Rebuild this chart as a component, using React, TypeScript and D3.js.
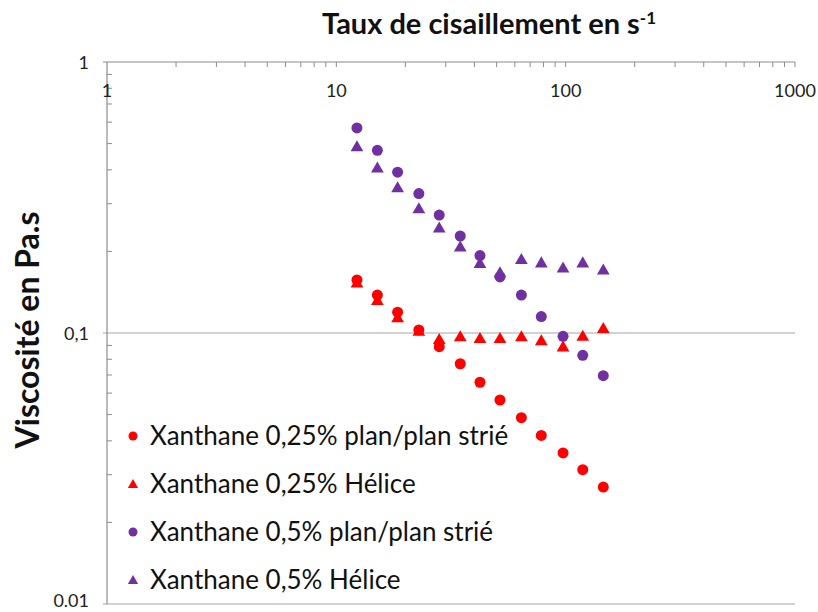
import React from "react";
import * as d3 from "d3";

const shearRates = [12.3, 15.1, 18.5, 22.9, 28.1, 34.7, 42.3, 51.7, 64.1, 78.3, 97.4, 118.7, 145.9];
const xan025Plan = [0.157, 0.138, 0.1193, 0.1026, 0.089, 0.077, 0.0658, 0.0566, 0.0487, 0.0419, 0.0361, 0.0313, 0.027];
const xan025Helice = [0.1533, 0.132, 0.114, 0.1017, 0.0948, 0.097, 0.0956, 0.0956, 0.097, 0.0937, 0.089, 0.0975, 0.104];
const xan05Plan = [0.571, 0.472, 0.392, 0.327, 0.2725, 0.228, 0.193, 0.161, 0.138, 0.115, 0.0972, 0.0827, 0.0696];
const xan05Helice = [0.487, 0.407, 0.344, 0.288, 0.2446, 0.208, 0.1807, 0.167, 0.187, 0.1817, 0.174, 0.1817, 0.171];

const seriesNames = [
  "Xanthane 0,25% plan/plan strié",
  "Xanthane 0,25% Hélice",
  "Xanthane 0,5% plan/plan strié",
  "Xanthane 0,5% Hélice",
];
const seriesValues = [xan025Plan, xan025Helice, xan05Plan, xan05Helice];
const seriesColors = ["#FF0000", "#FF0000", "#7030A0", "#7030A0"];
const seriesShapes = ["circle", "triangle", "circle", "triangle"];

const xTickValues = [1, 10, 100, 1000];
const xTickLabels = ["1", "10", "100", "1000"];
const yTickValues = [1, 0.1, 0.01];
const yTickLabels = ["1", "0,1", "0.01"];

const W = 818;
const H = 612;
const FONT = "Lato, 'Open Sans', sans-serif";

export default function App() {
  const x = d3.scaleLog().domain([1, 1000]).range([107, 795]);
  const y = d3.scaleLog().domain([0.01, 1]).range([604, 62]);
  const axisColor = "#8C8C8C";

  const minorX: number[] = [];
  for (let d = 1; d < 1000; d *= 10) {
    for (let k = 2; k <= 10; k++) minorX.push(d * k);
  }
  const minorY: number[] = [];
  for (let d = 0.01; d < 0.99; d *= 10) {
    for (let k = 2; k <= 9; k++) minorY.push(d * k);
  }

  const tri = d3.symbol().type(d3.symbolTriangle).size(70)()!;
  const triLeg = d3.symbol().type(d3.symbolTriangle).size(45)()!;

  const marker = (shape: string, color: string, cx: number, cy: number, key: string, legend = false) =>
    shape === "circle" ? (
      <circle key={key} cx={cx} cy={cy} r={legend ? 4.5 : 5.5} fill={color} />
    ) : (
      <path key={key} d={legend ? triLeg : tri} transform={`translate(${cx},${cy + 1})`} fill={color} />
    );

  return (
    <svg width={W} height={H} style={{ display: "block", position: "absolute", left: 0, top: 0 }}>
      <rect width={W} height={H} fill="#fff" />
      {yTickValues.map((v) => (
        <line key={"g" + v} x1={103} x2={795} y1={y(v)} y2={y(v)} stroke={v === 1 ? axisColor : "#A6A6A6"} strokeWidth={1.2} />
      ))}
      <line x1={107} x2={107} y1={62} y2={604} stroke={axisColor} strokeWidth={1.2} />
      {minorX.map((v) => (
        <line key={"mx" + v} x1={x(v)} x2={x(v)} y1={62} y2={67} stroke={axisColor} strokeWidth={1} />
      ))}
      {minorY.map((v) => (
        <line key={"my" + v} x1={107} x2={112} y1={y(v)} y2={y(v)} stroke={axisColor} strokeWidth={1} />
      ))}
      {xTickValues.map((v, i) => (
        <text key={"xl" + v} x={x(v)} y={97} textAnchor="middle" fontFamily={FONT} fontSize={18} fill="#222">
          {xTickLabels[i]}
        </text>
      ))}
      {yTickValues.map((v, i) => (
        <text key={"yl" + v} x={89} y={Math.min(y(v) + 7, 607)} textAnchor="end" fontFamily={FONT} fontSize={18} fill="#222">
          {yTickLabels[i]}
        </text>
      ))}
      {seriesValues.map((vals, s) => (
        <g key={"s" + s}>
          {vals.map((v, i) => marker(seriesShapes[s], seriesColors[s], x(shearRates[i]), y(v), `p${s}-${i}`))}
        </g>
      ))}
      {seriesNames.map((name, s) => {
        const cy = 436 + s * 48;
        return (
          <g key={"leg" + s}>
            {marker(seriesShapes[s], seriesColors[s], 133, cy, `lm${s}`, true)}
            <text x={150} y={cy + 9} fontFamily={FONT} fontSize={26} fill="#111">
              {name}
            </text>
          </g>
        );
      })}
      <text x={489} y={34} textAnchor="middle" fontFamily={FONT} fontWeight="bold" fontSize={29} fill="#111">
        Taux de cisaillement en s
        <tspan dy={-10} fontSize={17}>-1</tspan>
      </text>
      <text
        transform={`translate(39,330) rotate(-90)`}
        textAnchor="middle"
        fontFamily={FONT}
        fontWeight="bold"
        fontSize={32}
        fill="#111"
      >
        Viscosité en Pa.s
      </text>
    </svg>
  );
}
